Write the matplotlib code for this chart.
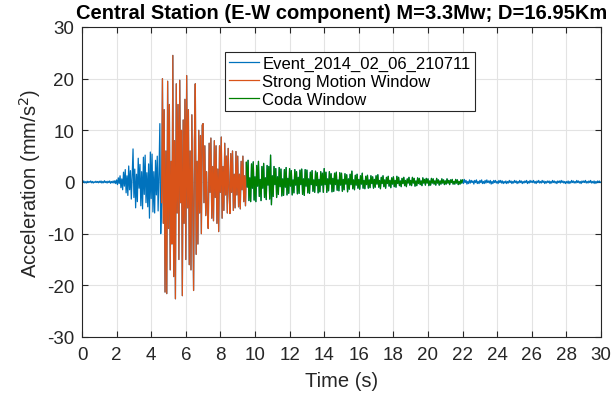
import numpy as np
import matplotlib
matplotlib.use("Agg")
import matplotlib.pyplot as plt

plt.rcParams['font.family'] = ['Liberation Sans', 'DejaVu Sans']
plt.rcParams['axes.unicode_minus'] = False

# sample interval (s) of the hand-read trace
dt = 0.05

# acceleration samples (mm/s^2), one row per second
sec00 = [0.1,-0.1,0.2,-0.15,0.05,-0.2,0.15,-0.1,0.1,-0.05,0.2,-0.15,0.1,-0.2,0.05,-0.1,0.15,-0.1,0.1,-0.15]
sec01 = [0.15,-0.1,0.2,-0.2,0.1,-0.15,0.25,-0.1,0.1,-0.2,0.15,-0.1,0.2,-0.25,0.1,-0.15,0.2,-0.2,0.25,-0.3]
sec02 = [0.4,-0.5,0.8,-0.3,1.2,-1.1,0.6,-1.5,1.9,-0.8,2.4,-2.1,1.2,-2.6,3.1,-1.5,2.2,-3.3,1.0,6.4]
sec03 = [-3.0,2.5,-5.0,1.5,-3.8,4.6,-1.2,3.4,-4.6,2.0,-5.2,4.8,-2.4,5.2,-4.0,1.8,-4.8,3.5,-7.0,5.8]
sec04 = [-3.2,5.4,-5.8,2.0,-6.0,4.2,-2.5,5.0,-5.6,1.5,11.3,-10.0,-4.0,20.0,-8.0,14.0,-21.3,6.0,-21.6,19.5]
sec05 = [-9.0,15.0,-17.0,4.0,-12.0,24.5,-18.3,8.0,-22.6,19.0,-6.0,15.0,-15.0,19.7,-4.0,10.0,-22.0,12.0,-8.0,16.0]
sec06 = [-15.0,20.6,-5.0,14.0,-16.0,6.0,-17.0,13.0,-3.0,-21.0,8.0,19.0,-14.0,4.0,-12.0,10.0,-6.0,9.0,-10.0,11.0]
sec07 = [11.3,-4.0,7.0,-6.5,2.0,-6.0,-9.0,7.5,-2.0,8.5,-7.0,3.0,-7.5,8.0,-3.0,7.0,-8.0,2.5,-9.6,7.0]
sec08 = [-2.0,8.7,-7.0,3.0,-5.5,7.5,-2.5,5.0,-6.0,6.5,-1.0,-6.1,5.5,-2.0,6.0,-5.5,1.5,-5.0,5.9,-2.5]
sec09 = [5.0,-4.8,1.5,-5.2,4.0,-1.5,5.0,-3.8,1.2,-4.6,3.8,-1.0,4.2,-3.6,0.8,-3.8,3.5,-1.2,3.9,-3.5]
sec10 = [1.0,-3.8,3.2,-0.8,4.0,-2.8,0.5,-3.6,3.0,-1.2,3.6,-3.0,0.8,-3.4,3.2,-0.6,3.0,-3.3,5.2,-4.4]
sec11 = [1.2,-2.8,3.0,-0.5,2.6,-3.0,1.0,-2.4,2.8,-0.9,2.5,-2.7,0.6,-2.6,2.4,-1.0,2.8,-2.5,0.7,-2.2]
sec12 = [2.6,-0.8,2.2,-2.5,0.4,-2.1,2.4,-0.6,2.0,-2.3,0.9,-2.2,2.3,-0.5,2.5,-2.4,0.6,-2.6,2.4,-0.8]
sec13 = [2.3,-2.1,0.6,-2.2,1.9,-0.5,2.2,-1.8,0.4,-2.0,2.1,-0.7,1.8,-2.1,0.5,-1.9,2.0,-0.6,1.7,-2.0]
sec14 = [2.6,-0.5,1.9,-2.0,0.6,-1.7,2.0,-0.4,1.6,-1.9,0.7,-1.8,1.7,-0.5,1.9,-1.6,0.4,-1.7,1.8,-0.6]
sec15 = [1.7,-1.8,0.5,-1.5,1.6,-0.4,1.4,-1.9,0.6,-1.4,1.5,-0.5,2.1,-1.3,0.4,-1.5,1.3,-0.6,1.5,-1.2]
sec16 = [0.5,-1.4,1.2,-0.4,1.7,-1.2,0.3,-1.3,1.1,-0.5,1.3,-1.2,0.4,-1.1,1.2,-0.3,1.0,-1.2,0.5,-1.0]
sec17 = [1.2,-0.4,1.4,-1.0,0.3,-1.3,0.9,-0.3,1.2,-0.9,0.4,-1.2,0.9,-0.3,1.1,-0.8,0.3,-1.1,0.8,-0.4]
sec18 = [1.0,-0.9,0.3,-1.0,1.1,-0.3,0.9,-0.7,0.2,-0.9,0.7,-0.3,0.9,-0.7,0.3,-0.9,0.6,-0.2,0.9,-0.6]
sec19 = [0.3,-0.7,0.9,-0.2,0.7,-0.8,0.2,-0.7,0.8,-0.3,0.7,-0.5,0.2,-0.7,0.8,-0.2,0.5,-0.6,0.7,-0.2]
sec20 = [0.6,-0.7,0.2,-0.6,0.7,-0.2,0.6,-0.4,0.2,-0.6,0.7,-0.2,0.4,-0.6,0.2,-0.4,0.6,-0.2,0.4,-0.5]
sec21 = [0.2,-0.4,0.6,-0.2,0.3,-0.5,0.4,-0.1,0.5,-0.4,0.1,-0.4,0.5,-0.2,0.4,-0.5,0.1,-0.4,0.4,-0.2]
sec22 = [0.4,-0.3,0.5,-0.1,0.3,-0.4,0.1,-0.3,0.4,-0.2,0.3,-0.1,0.2,-0.4,0.3,-0.1,0.4,-0.3,0.1,-0.3]
sec23 = [0.3,-0.1,0.4,-0.3,0.1,-0.3,0.3,-0.2,0.4,-0.1,0.2,-0.2,0.3,-0.4,0.1,-0.3,0.3,-0.1,0.3,-0.2]
sec24 = [0.1,-0.3,0.3,-0.1,0.3,-0.2,0.2,-0.3,0.1,-0.2,0.2,-0.3,0.1,-0.2,0.3,-0.1,0.2,-0.3,0.1,-0.2]
sec25 = [0.3,-0.1,0.2,-0.3,0.1,-0.2,0.3,-0.1,0.2,-0.3,0.1,-0.2,0.2,-0.1,0.3,-0.3,0.1,-0.2,0.3,-0.1]
sec26 = [0.2,-0.1,0.3,-0.2,0.1,-0.3,0.2,-0.1,0.3,-0.2,0.1,-0.2,0.3,-0.1,0.2,-0.3,0.1,-0.2,0.2,-0.1]
sec27 = [0.2,-0.3,0.1,-0.2,0.3,-0.1,0.2,-0.2,0.1,-0.3,0.2,-0.1,0.2,-0.2,0.3,-0.1,0.2,-0.2,0.1,-0.3]
sec28 = [0.1,-0.2,0.2,-0.3,0.1,-0.2,0.3,-0.1,0.2,-0.2,0.1,-0.2,0.3,-0.1,0.2,-0.2,0.1,-0.3,0.2,-0.1]
sec29 = [0.2,-0.1,0.3,-0.2,0.1,-0.2,0.2,-0.1,0.3,-0.2,0.1,-0.2,0.2,-0.3,0.1,-0.2,0.2,-0.1,0.2,-0.1]
sec30 = [0.0]

# window limits (s)
strong_start, strong_end = 4.6, 9.5
coda_start, coda_end = 9.5, 22.0

labels = ["Event_2014_02_06_210711", "Strong Motion Window", "Coda Window"]
title = "Central Station (E-W component) M=3.3Mw; D=16.95Km"
xticks = list(range(0, 31, 2))
yticks = [-30, -20, -10, 0, 10, 20, 30]

acc = np.concatenate([sec00, sec01, sec02, sec03, sec04, sec05, sec06, sec07, sec08, sec09,
                      sec10, sec11, sec12, sec13, sec14, sec15, sec16, sec17, sec18, sec19,
                      sec20, sec21, sec22, sec23, sec24, sec25, sec26, sec27, sec28, sec29, sec30])
t = np.arange(len(acc)) * dt

def idx(s):
    return int(round(s / dt))

c_blue = '#0072BD'
c_orange = '#D95319'
c_green = '#008000'

fig = plt.figure(figsize=(6.16, 4.02), dpi=100)
ax = fig.add_axes([82/616, 1 - 338/402, 519/616, 310/402])

ax.plot(t, acc, color=c_blue, lw=0.9, label=labels[0])
i0, i1 = idx(strong_start), idx(strong_end)
ax.plot(t[i0:i1 + 1], acc[i0:i1 + 1], color=c_orange, lw=0.9, label=labels[1])
j0, j1 = idx(coda_start), idx(coda_end)
ax.plot(t[j0:j1 + 1], acc[j0:j1 + 1], color=c_green, lw=0.9, label=labels[2])

ax.set_xlim(0, 30)
ax.set_ylim(-30, 30)
ax.set_xticks(xticks)
ax.set_yticks(yticks)
ax.grid(True, color='#e3e3e3', lw=0.8)
ax.set_axisbelow(True)
ax.tick_params(direction='in', top=True, right=True, labelsize=13.5, colors='#262626',
               length=4, width=0.8)
ax.tick_params(axis='x', pad=6.5)
ax.tick_params(axis='y', pad=5.5)
for sp in ax.spines.values():
    sp.set_color('#262626')
    sp.set_linewidth(0.8)

ax.set_xlabel("Time (s)", fontsize=14.5, color='#262626', labelpad=6)
ax.set_ylabel("Acceleration (mm/s$^2$)", fontsize=14.5, color='#262626', labelpad=3)
ax.set_title(title, fontsize=14.5, fontweight='bold', color='black', pad=6.5)

leg = ax.legend(loc='upper left', bbox_to_anchor=((225 - 82) / 519, (338 - 53) / 310),
                fontsize=12, frameon=True, fancybox=False, framealpha=1,
                edgecolor='#262626', handlelength=1.8, handletextpad=0.2,
                borderpad=0.25, labelspacing=0.18, borderaxespad=0)
leg.get_frame().set_linewidth(0.8)

fig.savefig("out.png", dpi=100)
